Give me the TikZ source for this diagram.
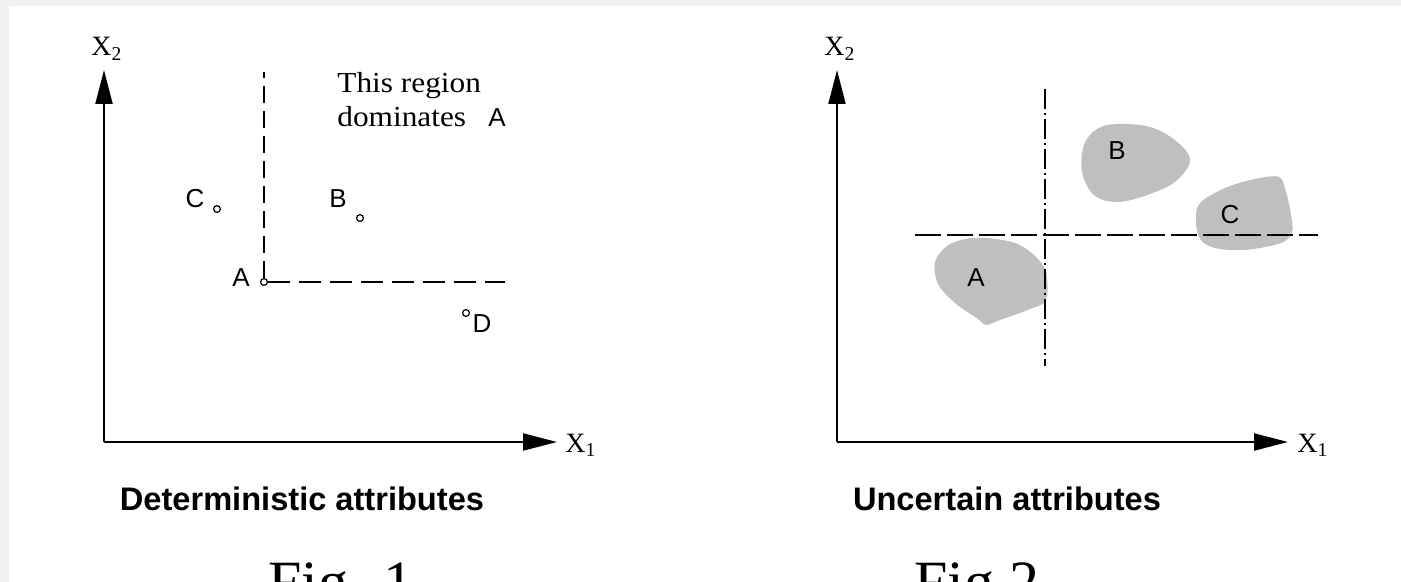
\documentclass[tikz,border=0pt]{standalone}
\usepackage{fontspec}
\setmainfont{Liberation Serif}
\setsansfont{Liberation Sans}
\usetikzlibrary{arrows.meta}
\definecolor{bordergray}{RGB}{240,240,240}
\definecolor{blobgray}{RGB}{191,191,191}
\tikzset{
 axis/.style={line width=1pt, -{Triangle[length=17pt,width=8.5pt]}},
 lbl/.style={font=\sffamily\fontsize{13}{15}\selectfont, inner sep=0pt},
 axlbl/.style={font=\fontsize{14}{16}\selectfont, inner sep=0pt, anchor=base west},
 ptmark/.style={circle, draw, line width=0.6pt, inner sep=0pt, minimum size=3.4pt, fill=white},
 capt/.style={font=\sffamily\bfseries\fontsize{16.3}{19}\selectfont, inner sep=0pt, anchor=base},
 figlbl/.style={font=\fontsize{30}{36}\selectfont, inner sep=0pt, anchor=base west},
 regtext/.style={font=\fontsize{14.5}{17}\selectfont, inner sep=0pt, anchor=base west},
 dashv/.style={line width=0.85pt, dash pattern=on 8.5pt off 4pt},
 dashh/.style={line width=0.85pt, dash pattern=on 11pt off 4.5pt},
 dashdotv/.style={line width=0.85pt, dash pattern=on 10pt off 2pt on 1pt off 2pt},
 dashdoth/.style={line width=0.85pt, dash pattern=on 13pt off 3pt},
 blob/.style={fill=blobgray, draw=none},
}
\begin{document}
\begin{tikzpicture}[x=0.5pt,y=-0.5pt]
\path[use as bounding box] (0,0) rectangle (1401,582);
\clip (0,0) rectangle (1401,582);
\fill[white] (0,0) rectangle (1401,582);
\fill[bordergray] (0,0) rectangle (1401,6);
\fill[bordergray] (0,0) rectangle (9,582);

% ---------- Figure 1 ----------
\coordinate (o1) at (104,442);
\coordinate (y1) at (104,70);
\coordinate (x1) at (557,442);
\draw[axis] (o1) -- (y1);
\draw[axis] (o1) -- (x1);
\node[axlbl] (x2lab1) at (91,56) {X\textsubscript{2}};
\node[axlbl] (x1lab1) at (565,452) {X\textsubscript{1}};

\coordinate (vtop1) at (264,72);
\coordinate (hend1) at (505,282);
\node[ptmark] (pA) at (264,282) {};
\draw[dashv] (pA) -- (vtop1);
\draw[dashh] (pA) -- (hend1);
\node[ptmark] (pC) at (217,209) {};
\node[ptmark] (pB) at (360,218) {};
\node[ptmark] (pD) at (466,313) {};
\node[lbl] (lA) at (241,278) {A};
\node[lbl] (lC) at (195,199) {C};
\node[lbl] (lB) at (338,199) {B};
\node[lbl] (lD) at (482,324) {D};

\node[regtext] (reg1) at (337,93) {\scalebox{1.08}[1]{This region}};
\node[regtext] (reg2) at (337,127) {\scalebox{1.08}[1]{dominates}};
\node[lbl, anchor=base] (regA) at (497,127) {A};

\node[capt] (cap1) at (302,510) {Deterministic attributes};
\node[figlbl] (fig1) at (268,602) {Fig. 1};

% ---------- Figure 2 ----------
\fill[blob] plot[smooth cycle, tension=0.6] coordinates {
 (1117,124) (1150,127) (1176,141) (1190,160) (1176,181) (1150,194) (1118,202) (1094,195) (1082,172) (1084,145) (1097,129)};
\fill[blob] plot[smooth cycle, tension=0.55] coordinates {
 (1200,203) (1225,188) (1255,179) (1279,177) (1286,192) (1291,215) (1292,232) (1281,243) (1245,250) (1215,248) (1200,239) (1196,220)};
\fill[blob] plot[smooth cycle, tension=0.55] coordinates {
 (987,238) (1015,243) (1034,255) (1046,272) (1046,300) (1030,309) (1000,320) (986,325) (978,319) (955,303) (938,284) (935,262) (947,246) (965,239)};

\coordinate (o2) at (837,442);
\coordinate (y2) at (837,70);
\coordinate (x2) at (1288,442);
\draw[axis] (o2) -- (y2);
\draw[axis] (o2) -- (x2);
\node[axlbl] (x2lab2) at (824,56) {X\textsubscript{2}};
\node[axlbl] (x1lab2) at (1297,452) {X\textsubscript{1}};

\coordinate (vtop2) at (1045,89);
\coordinate (vbot2) at (1045,366);
\coordinate (hl2) at (915,235);
\coordinate (hr2) at (1318,235);
\draw[dashdotv] (vtop2) -- (vbot2);
\draw[dashdoth] (hl2) -- (hr2);

\node[lbl] (bB) at (1117,151) {B};
\node[lbl] (bC) at (1230,215) {C};
\node[lbl] (bA) at (976,278) {A};

\node[capt] (cap2) at (1007,510) {Uncertain attributes};
\node[figlbl] (fig2) at (914,602) {Fig.2};
\end{tikzpicture}
\end{document}
